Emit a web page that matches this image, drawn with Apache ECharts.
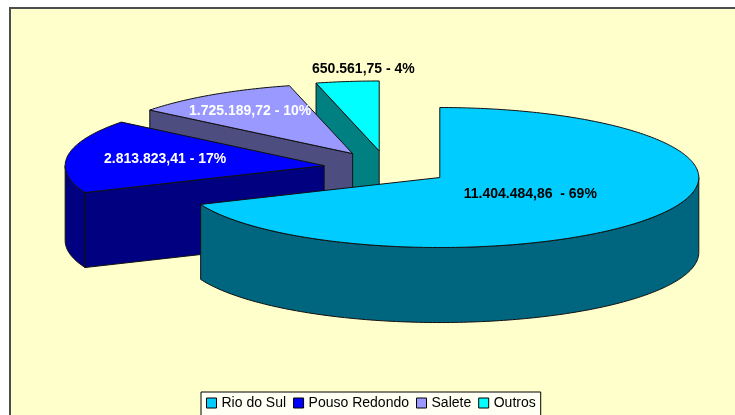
<!DOCTYPE html>
<html>
<head>
<meta charset="utf-8">
<title>Rio do Sul</title>
<script src="https://cdn.jsdelivr.net/npm/echarts@6.0.0/dist/echarts.min.js"></script>
<style>
    html, body { margin: 0; padding: 0; background: #fff; }
    #main { width: 735px; height: 415px; }
</style>
</head>
<body>
<div id="main"></div>
<script>
    const names = ['Rio do Sul', 'Pouso Redondo', 'Salete', 'Outros'];
    const values = [11404484.86, 2813823.41, 1725189.72, 650561.75];
    const labels = ['11.404.484,86  - 69%', '2.813.823,41 - 17%', '1.725.189,72 - 10%', '650.561,75 - 4%'];

    const topColors = ['#00CCFF', '#0000FF', '#9999FF', '#00FFFF'];
    const sideColors = ['#006680', '#000080', '#4D4D80', '#008080'];
    const labelColors = ['#000', '#fff', '#fff', '#000'];
    const labelRadius = [0.42, 0.62, 0.73, -1]; // -1 = label above the slice

    // pie layout (3d, flattened)
    const cx = 387, cy = 168, rx = 259, ry = 70, depth = 75, explode = 0.245;
    const font = '"Liberation Sans", Arial, sans-serif';
    const rad = d => d * Math.PI / 180;

    const total = values.reduce((a, b) => a + b, 0);
    let acc = 0;
    const slices = values.map(v => {
        const a0 = acc / total * 360;
        acc += v;
        const a1 = acc / total * 360;
        const m = rad((a0 + a1) / 2);
        return { a0, a1, m, ox: cx + explode * rx * Math.sin(m), oy: cy - explode * ry * Math.cos(m) };
    });

    function renderSlice(i) {
        return function (params, api) {
            const s = slices[i];
            const ox = s.ox, oy = s.oy;
            const P = (deg, dy) => [ox + rx * Math.sin(rad(deg)), oy - ry * Math.cos(rad(deg)) + (dy || 0)];
            const arc = (from, to, dy) => {
                const pts = [];
                const n = Math.max(2, Math.ceil(Math.abs(to - from)));
                for (let k = 0; k <= n; k++) pts.push(P(from + (to - from) * k / n, dy));
                return pts;
            };
            const edge = { stroke: '#111', lineWidth: 1, lineJoin: 'round' };
            const side = Object.assign({ fill: sideColors[i] }, edge);
            const wall = deg => ({
                type: 'polygon',
                shape: { points: [[ox, oy], P(deg), P(deg, depth), [ox, oy + depth]] },
                style: side
            });
            const children = [];
            // only the walls that face the viewer
            if (Math.sin(rad(s.a0)) < -1e-6) children.push(wall(s.a0));
            if (Math.sin(rad(s.a1)) > 1e-6) children.push(wall(s.a1));
            const f = Math.max(s.a0, 90), t = Math.min(s.a1, 270);
            if (t > f) {
                children.push({ type: 'polygon', shape: { points: arc(f, t, 0).concat(arc(t, f, depth)) }, style: side });
            }
            children.push({
                type: 'polygon',
                shape: { points: [[ox, oy]].concat(arc(s.a0, s.a1, 0)) },
                style: Object.assign({ fill: topColors[i] }, edge)
            });

            let lx, ly, align = 'center';
            if (labelRadius[i] > 0) {
                lx = ox + labelRadius[i] * rx * Math.sin(s.m);
                ly = oy - labelRadius[i] * ry * Math.cos(s.m);
            } else {
                const p = P(s.a0);
                lx = p[0] - 4; ly = p[1] - 14; align = 'left';
            }
            children.push({
                type: 'text', x: lx, y: ly,
                style: {
                    text: labels[i], fill: labelColors[i],
                    font: 'bold 14px ' + font,
                    align: align, verticalAlign: 'middle'
                }
            });
            return { type: 'group', children };
        };
    }

    // back slices first
    const order = slices.map((s, i) => i).sort((a, b) => slices[a].oy - slices[b].oy);

    const series = names.map((n, i) => ({
        type: 'custom',
        name: n,
        coordinateSystem: 'none',
        renderItem: renderSlice(i),
        data: [values[i]],
        itemStyle: { color: topColors[i] },
        z: 2 + order.indexOf(i),
        silent: true
    }));

    const chart = echarts.init(document.getElementById('main'));
    chart.setOption({
        animation: false,
        backgroundColor: '#fff',
        graphic: [{
            type: 'rect', z: -10, silent: true,
            shape: { x: 10, y: 8, width: 760, height: 440 },
            style: { fill: '#FFFFCC', stroke: '#4d4d4d', lineWidth: 2 }
        }],
        legend: {
            data: names,
            left: 201, top: 392,
            icon: 'rect', itemWidth: 10, itemHeight: 10, itemGap: 7,
            padding: [4, 5, 10, 5],
            backgroundColor: '#FFFFF4',
            borderColor: '#000', borderWidth: 1,
            selectedMode: false,
            itemStyle: { borderColor: '#000', borderWidth: 1 },
            textStyle: { fontSize: 14, color: '#000', fontFamily: font }
        },
        series: series
    });
</script>
</body>
</html>
